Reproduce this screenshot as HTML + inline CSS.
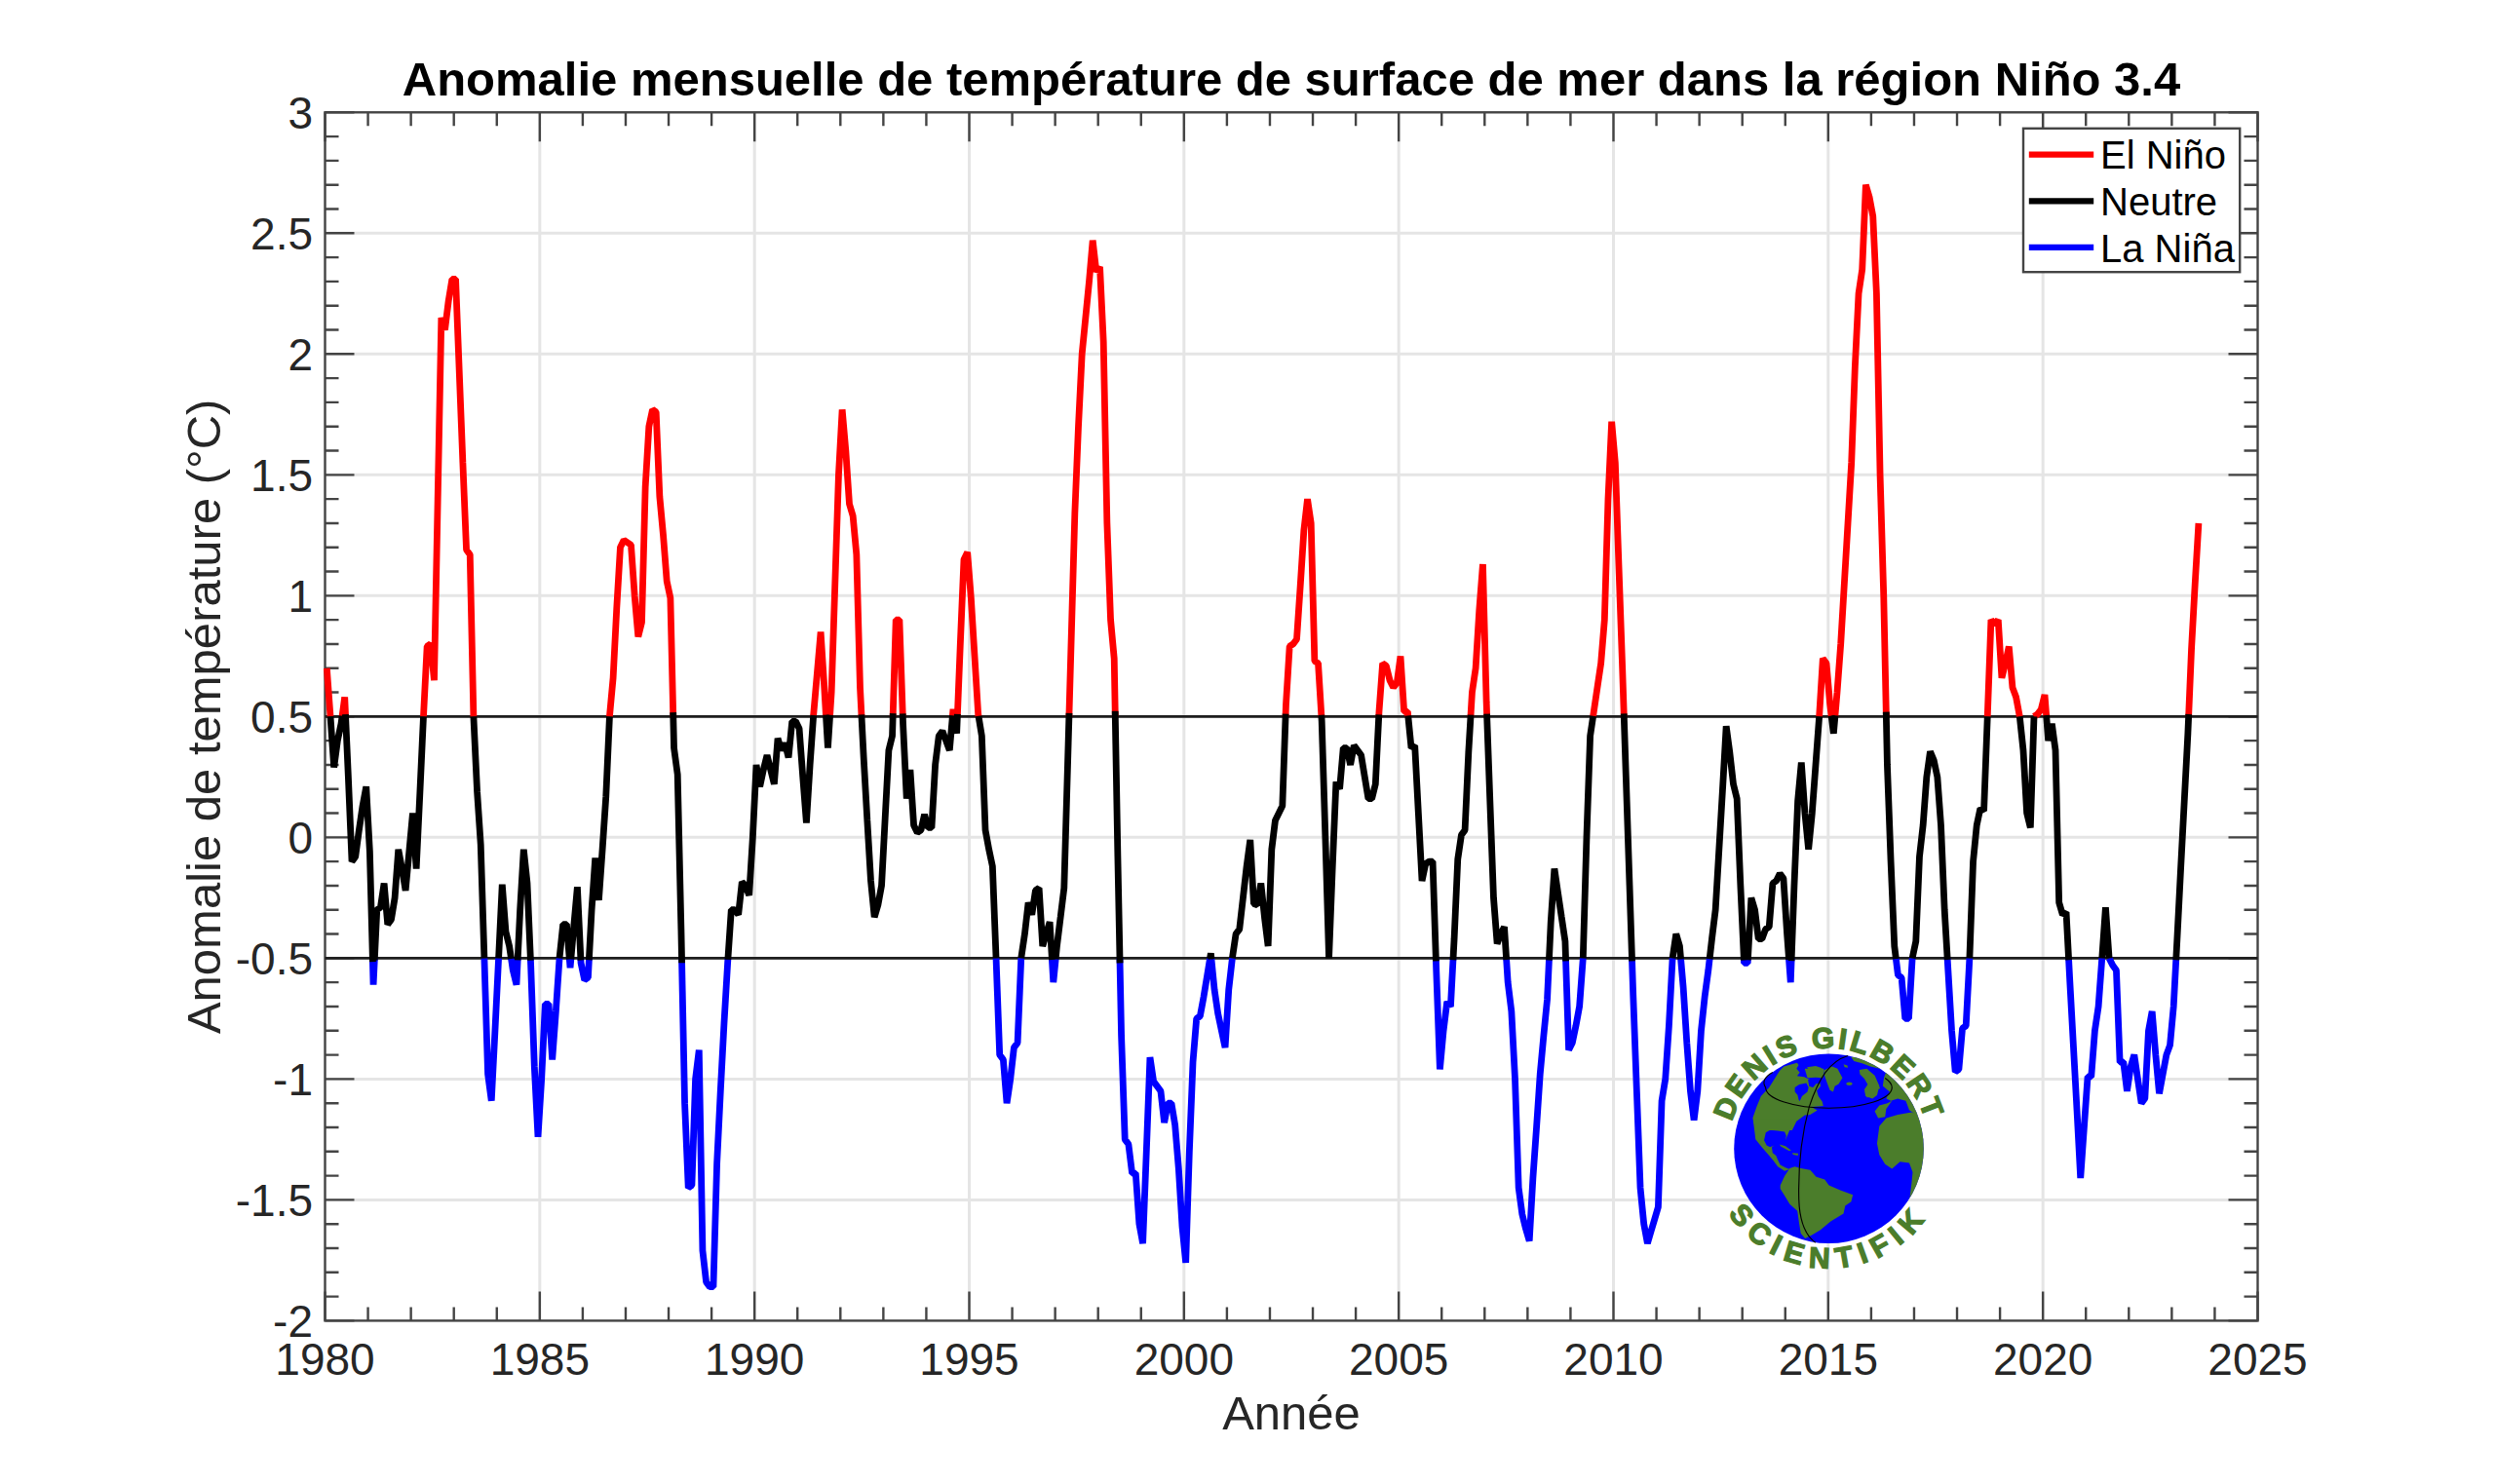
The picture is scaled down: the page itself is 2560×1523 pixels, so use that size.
<!DOCTYPE html>
<html><head><meta charset="utf-8"><style>html,body{margin:0;padding:0;background:#fff;overflow:hidden}svg{display:block}</style></head>
<body><svg width="2560" height="1523" viewBox="0 0 2560 1523">
<rect width="2560" height="1523" fill="#fff"/>
<path d="M553.83 115.30V1355.40M774.17 115.30V1355.40M994.50 115.30V1355.40M1214.83 115.30V1355.40M1435.17 115.30V1355.40M1655.50 115.30V1355.40M1875.83 115.30V1355.40M2096.17 115.30V1355.40M333.50 239.31H2316.50M333.50 363.32H2316.50M333.50 487.33H2316.50M333.50 611.34H2316.50M333.50 735.35H2316.50M333.50 859.36H2316.50M333.50 983.37H2316.50M333.50 1107.38H2316.50M333.50 1231.39H2316.50" stroke="#e5e5e5" stroke-width="3" fill="none"/>
<path d="M333.50 1355.40v-30M333.50 115.30v30M377.57 1355.40v-14M377.57 115.30v14M421.63 1355.40v-14M421.63 115.30v14M465.70 1355.40v-14M465.70 115.30v14M509.77 1355.40v-14M509.77 115.30v14M553.83 1355.40v-30M553.83 115.30v30M597.90 1355.40v-14M597.90 115.30v14M641.97 1355.40v-14M641.97 115.30v14M686.03 1355.40v-14M686.03 115.30v14M730.10 1355.40v-14M730.10 115.30v14M774.17 1355.40v-30M774.17 115.30v30M818.23 1355.40v-14M818.23 115.30v14M862.30 1355.40v-14M862.30 115.30v14M906.37 1355.40v-14M906.37 115.30v14M950.43 1355.40v-14M950.43 115.30v14M994.50 1355.40v-30M994.50 115.30v30M1038.57 1355.40v-14M1038.57 115.30v14M1082.63 1355.40v-14M1082.63 115.30v14M1126.70 1355.40v-14M1126.70 115.30v14M1170.77 1355.40v-14M1170.77 115.30v14M1214.83 1355.40v-30M1214.83 115.30v30M1258.90 1355.40v-14M1258.90 115.30v14M1302.97 1355.40v-14M1302.97 115.30v14M1347.03 1355.40v-14M1347.03 115.30v14M1391.10 1355.40v-14M1391.10 115.30v14M1435.17 1355.40v-30M1435.17 115.30v30M1479.23 1355.40v-14M1479.23 115.30v14M1523.30 1355.40v-14M1523.30 115.30v14M1567.37 1355.40v-14M1567.37 115.30v14M1611.43 1355.40v-14M1611.43 115.30v14M1655.50 1355.40v-30M1655.50 115.30v30M1699.57 1355.40v-14M1699.57 115.30v14M1743.63 1355.40v-14M1743.63 115.30v14M1787.70 1355.40v-14M1787.70 115.30v14M1831.77 1355.40v-14M1831.77 115.30v14M1875.83 1355.40v-30M1875.83 115.30v30M1919.90 1355.40v-14M1919.90 115.30v14M1963.97 1355.40v-14M1963.97 115.30v14M2008.03 1355.40v-14M2008.03 115.30v14M2052.10 1355.40v-14M2052.10 115.30v14M2096.17 1355.40v-30M2096.17 115.30v30M2140.23 1355.40v-14M2140.23 115.30v14M2184.30 1355.40v-14M2184.30 115.30v14M2228.37 1355.40v-14M2228.37 115.30v14M2272.43 1355.40v-14M2272.43 115.30v14M2316.50 1355.40v-30M2316.50 115.30v30M333.50 115.30h30M2316.50 115.30h-30M333.50 140.10h14M2316.50 140.10h-14M333.50 164.90h14M2316.50 164.90h-14M333.50 189.71h14M2316.50 189.71h-14M333.50 214.51h14M2316.50 214.51h-14M333.50 239.31h30M2316.50 239.31h-30M333.50 264.11h14M2316.50 264.11h-14M333.50 288.91h14M2316.50 288.91h-14M333.50 313.72h14M2316.50 313.72h-14M333.50 338.52h14M2316.50 338.52h-14M333.50 363.32h30M2316.50 363.32h-30M333.50 388.12h14M2316.50 388.12h-14M333.50 412.92h14M2316.50 412.92h-14M333.50 437.73h14M2316.50 437.73h-14M333.50 462.53h14M2316.50 462.53h-14M333.50 487.33h30M2316.50 487.33h-30M333.50 512.13h14M2316.50 512.13h-14M333.50 536.93h14M2316.50 536.93h-14M333.50 561.74h14M2316.50 561.74h-14M333.50 586.54h14M2316.50 586.54h-14M333.50 611.34h30M2316.50 611.34h-30M333.50 636.14h14M2316.50 636.14h-14M333.50 660.94h14M2316.50 660.94h-14M333.50 685.75h14M2316.50 685.75h-14M333.50 710.55h14M2316.50 710.55h-14M333.50 735.35h30M2316.50 735.35h-30M333.50 760.15h14M2316.50 760.15h-14M333.50 784.95h14M2316.50 784.95h-14M333.50 809.76h14M2316.50 809.76h-14M333.50 834.56h14M2316.50 834.56h-14M333.50 859.36h30M2316.50 859.36h-30M333.50 884.16h14M2316.50 884.16h-14M333.50 908.96h14M2316.50 908.96h-14M333.50 933.77h14M2316.50 933.77h-14M333.50 958.57h14M2316.50 958.57h-14M333.50 983.37h30M2316.50 983.37h-30M333.50 1008.17h14M2316.50 1008.17h-14M333.50 1032.97h14M2316.50 1032.97h-14M333.50 1057.78h14M2316.50 1057.78h-14M333.50 1082.58h14M2316.50 1082.58h-14M333.50 1107.38h30M2316.50 1107.38h-30M333.50 1132.18h14M2316.50 1132.18h-14M333.50 1156.98h14M2316.50 1156.98h-14M333.50 1181.79h14M2316.50 1181.79h-14M333.50 1206.59h14M2316.50 1206.59h-14M333.50 1231.39h30M2316.50 1231.39h-30M333.50 1256.19h14M2316.50 1256.19h-14M333.50 1280.99h14M2316.50 1280.99h-14M333.50 1305.80h14M2316.50 1305.80h-14M333.50 1330.60h14M2316.50 1330.60h-14M333.50 1355.40h30M2316.50 1355.40h-30" stroke="#444444" stroke-width="2.4" fill="none"/>
<rect x="333.5" y="115.3" width="1983.0" height="1240.1000000000001" stroke="#444444" stroke-width="2.4" fill="none"/>
<path d="M333.50 735.35H2316.50M333.50 983.37H2316.50" stroke="#1e1e1e" stroke-width="2.6" fill="none"/>
<path d="M335.34 685.75L339.01 735.35M351.03 735.35L353.70 715.51L354.59 735.35M434.49 735.35L438.16 663.42L441.83 660.94L445.50 698.15L449.18 512.13L452.85 326.12L456.52 338.52L460.19 308.76L463.86 286.43L467.54 286.43L471.21 380.68L474.88 474.93L478.55 564.22L482.23 569.18L485.90 735.35M625.44 735.35L629.11 695.67L632.79 623.74L636.46 561.74L640.13 554.30L643.80 556.78L647.48 559.26L651.15 611.34L654.82 653.50L658.49 638.62L662.16 499.73L665.84 437.73L669.51 420.36L673.18 422.84L676.85 509.65L680.53 549.34L684.20 596.46L687.87 613.82L690.77 735.35M834.58 735.35L834.76 732.87L838.43 690.71L842.10 648.54L845.78 705.59L847.54 735.35M851.52 735.35L853.12 710.55L856.79 598.94L860.46 487.33L864.14 420.36L867.81 462.53L871.48 517.09L875.15 529.49L878.83 569.18L882.50 705.59L884.02 735.35M916.16 735.35L919.22 636.14L922.89 636.14L926.31 735.35M977.33 735.35L977.98 727.91L979.08 735.35M982.34 735.35L985.32 660.94L988.99 574.14L992.66 566.70L996.34 613.82L1000.01 673.35L1003.68 732.87L1004.09 735.35M1096.90 735.35L1099.16 655.98L1102.83 527.01L1106.50 437.73L1110.18 363.32L1113.85 326.12L1117.52 288.91L1121.19 246.75L1124.86 278.99L1128.54 274.03L1132.21 350.92L1135.88 536.93L1139.55 636.14L1143.22 675.83L1144.30 735.35M1319.05 735.35L1319.49 722.95L1323.16 663.42L1326.84 660.94L1330.51 655.98L1334.18 601.42L1337.85 544.37L1341.53 512.13L1345.20 536.93L1348.87 678.31L1352.54 680.79L1355.91 735.35M1414.72 735.35L1414.97 730.39L1418.64 680.79L1422.31 683.27L1425.99 698.15L1429.66 705.59L1433.33 700.63L1437.00 673.35L1440.68 730.39L1444.35 730.39L1444.84 735.35M1508.98 735.35L1510.45 710.55L1514.12 685.75L1517.79 626.22L1521.46 579.10L1525.14 720.47L1525.67 735.35M1634.57 735.35L1635.30 730.39L1638.98 705.59L1642.65 680.79L1646.32 636.14L1649.99 512.13L1653.66 432.77L1657.34 474.93L1661.01 581.58L1664.68 685.75L1666.31 735.35M1866.65 735.35L1870.33 675.83L1874.00 680.79L1877.67 722.95L1879.20 735.35M1882.85 735.35L1885.01 710.55L1888.69 660.94L1892.36 598.94L1896.03 536.93L1899.70 474.93L1903.38 375.72L1907.05 301.31L1910.72 276.51L1914.39 189.71L1918.06 202.11L1921.74 221.95L1925.41 301.31L1929.08 487.33L1932.75 611.34L1935.38 735.35M2039.25 735.35L2042.92 636.14L2046.59 641.10L2050.26 636.14L2053.94 695.67L2057.61 680.79L2061.28 663.42L2064.95 705.59L2068.62 715.51L2072.30 735.35M2086.99 735.35L2090.66 732.87L2094.33 727.91L2098.00 713.03L2099.74 735.35M2245.63 735.35L2248.56 665.90L2252.24 598.94L2255.91 536.93" stroke="#ff0000" stroke-width="6.8" fill="none" stroke-linejoin="bevel" stroke-linecap="butt"/>
<path d="M382.34 983.37L383.07 1010.65L384.38 983.37M496.91 983.37L500.59 1102.42L504.26 1129.70L507.93 1057.78L511.60 983.37M524.46 983.37L526.29 995.77L529.96 1010.65L531.27 983.37M544.33 983.37L544.65 990.81L548.33 1094.98L552.00 1166.90L555.67 1107.38L559.34 1030.49L563.01 1030.49L566.69 1087.54L570.36 1037.93L574.03 983.37M584.23 983.37L585.05 993.29L585.91 983.37M595.83 983.37L596.06 988.33L599.74 1005.69L603.41 1003.21L604.46 983.37M699.50 983.37L702.56 1132.18L706.23 1218.99L709.90 1216.51L713.58 1107.38L717.25 1077.62L720.92 1283.47L724.59 1315.72L728.26 1320.68L731.94 1320.68L735.61 1194.19L739.28 1119.78L742.95 1050.34L746.62 988.33L746.96 983.37M1022.04 983.37L1025.71 1082.58L1029.39 1087.54L1033.06 1132.18L1036.73 1107.38L1040.40 1075.14L1044.08 1070.18L1047.75 983.37M1079.33 983.37L1080.80 1008.17L1083.25 983.37M1148.98 983.37L1150.57 1062.74L1154.24 1169.38L1157.91 1174.35L1161.59 1204.11L1165.26 1204.11L1168.93 1256.19L1172.60 1276.03L1176.28 1181.79L1179.95 1085.06L1183.62 1109.86L1187.29 1114.82L1190.96 1119.78L1194.64 1152.02L1198.31 1132.18L1201.98 1132.18L1205.65 1154.50L1209.33 1199.15L1213.00 1258.67L1216.67 1295.88L1220.34 1181.79L1224.01 1090.02L1227.69 1045.38L1231.36 1042.89L1235.03 1023.05L1238.70 1000.73L1241.56 983.37M1242.86 983.37L1246.05 1015.61L1249.72 1040.41L1253.39 1057.78L1257.06 1075.14L1260.74 1015.61L1264.41 983.37M1473.32 983.37L1473.73 995.77L1477.40 1097.46L1481.07 1057.78L1484.74 1028.01L1488.41 1032.97L1491.04 983.37M1545.57 983.37L1547.17 1008.17L1550.84 1037.93L1554.51 1107.38L1558.19 1218.99L1561.86 1246.27L1565.53 1261.15L1569.20 1273.55L1572.88 1209.07L1576.55 1156.98L1580.22 1102.42L1583.89 1062.74L1587.56 1025.53L1589.51 983.37M1606.50 983.37L1609.60 1077.62L1613.27 1070.18L1616.94 1052.82L1620.61 1032.97L1624.29 983.37M1674.47 983.37L1675.70 1020.57L1679.37 1119.78L1683.04 1218.99L1686.71 1256.19L1690.39 1276.03L1694.06 1263.63L1697.73 1251.23L1701.40 1238.83L1705.08 1129.70L1708.75 1107.38L1712.42 1052.82L1716.09 983.37M1724.52 983.37L1727.11 1013.13L1730.78 1070.18L1734.45 1119.78L1738.12 1149.54L1741.80 1119.78L1745.47 1057.78L1749.14 1023.05L1752.81 995.77L1754.23 983.37M1789.31 983.37L1789.54 988.33L1793.21 988.33L1793.48 983.37M1835.44 983.37L1837.28 1008.17L1838.19 983.37M1945.30 983.37L1947.44 1000.73L1951.11 1003.21L1954.79 1045.38L1958.46 1045.38L1962.13 983.37M1998.12 983.37L1998.85 995.77L2002.53 1057.78L2006.20 1099.94L2009.87 1097.46L2013.54 1055.30L2017.21 1052.82L2020.89 983.37M2122.53 983.37L2123.71 1005.69L2127.38 1072.66L2131.05 1139.62L2134.73 1209.07L2138.40 1156.98L2142.07 1104.90L2145.74 1104.90L2149.41 1057.78L2153.09 1032.97L2156.76 983.37M2164.10 983.37L2167.78 990.81L2171.45 995.77L2175.12 1090.02L2178.79 1090.02L2182.46 1119.78L2186.14 1094.98L2189.81 1082.58L2193.48 1107.38L2197.15 1132.18L2200.82 1127.22L2204.50 1057.78L2208.17 1037.93L2211.84 1082.58L2215.51 1122.26L2219.19 1102.42L2222.86 1082.58L2226.53 1072.66L2230.20 1032.97L2232.83 983.37" stroke="#0000ff" stroke-width="6.8" fill="none" stroke-linejoin="bevel" stroke-linecap="butt"/>
<path d="M339.01 735.35L342.68 787.43L346.35 760.15L350.02 742.79L351.13 734.61M354.49 733.12L357.37 797.36L361.04 884.16L364.71 879.20L368.39 851.92L372.06 827.12L375.73 807.28L379.40 874.24L382.44 987.08M384.28 985.46L386.75 933.77L390.42 931.29L394.09 906.48L397.76 948.65L401.44 943.69L405.11 921.37L408.78 871.76L412.45 891.60L416.12 913.92L419.80 874.24L423.47 834.56L427.14 891.60L430.81 814.72L434.49 735.35M485.90 735.35L489.57 812.24L493.24 866.80L496.91 983.37M511.60 983.37L515.27 907.72L518.95 956.09L522.62 970.97L524.56 984.05M531.17 985.46L533.64 933.77L537.31 871.76L540.98 906.48L544.43 985.67M574.03 983.37L577.70 948.65L581.38 948.65L584.33 984.59M585.81 984.52L588.72 951.13L592.39 910.20L595.93 985.50M604.36 985.26L607.08 933.77L610.75 880.44L614.42 923.85L618.10 871.76L621.77 817.20L625.44 735.35M690.67 731.16L691.54 767.59L695.21 794.87L698.89 953.61L699.60 988.23M746.86 984.86L750.30 933.77L753.97 933.77L757.64 938.73L761.31 905.24L764.99 908.96L768.66 918.88L772.33 859.36L776.00 784.95L779.67 807.28L783.35 789.91L787.02 775.03L790.69 789.91L794.36 804.80L798.04 757.67L801.71 770.07L805.38 762.63L809.05 777.51L812.73 740.31L816.40 740.31L820.07 747.75L823.74 797.36L827.41 844.48L831.09 784.95L834.68 733.93M847.44 733.66L849.45 767.59L851.62 733.80M883.92 733.39L886.17 777.51L889.84 842.00L893.51 904.00L897.19 941.21L900.86 928.81L904.53 908.96L908.20 839.52L911.88 770.07L915.55 755.19L916.26 732.11M926.21 732.45L926.56 742.79L930.24 819.68L933.91 789.91L937.58 846.96L941.25 854.40L944.93 851.92L948.60 835.80L952.27 849.44L955.94 849.44L959.61 784.95L963.29 755.19L966.96 750.23L970.63 760.15L974.30 770.07L977.43 734.20M978.98 734.67L981.65 752.71L982.44 732.85M1003.99 734.74L1007.35 755.19L1011.03 851.92L1014.70 871.76L1018.37 889.12L1022.04 983.37M1047.75 983.37L1051.42 958.57L1055.09 926.33L1058.76 938.73L1062.44 913.92L1066.11 911.44L1069.78 970.97L1073.45 958.57L1077.12 946.17L1079.43 985.06M1083.15 984.38L1084.47 970.97L1088.14 941.21L1091.81 911.44L1095.49 784.95L1097.00 731.84M1144.20 729.81L1146.90 879.20L1149.08 988.37M1241.46 983.98L1242.38 978.41L1242.96 984.38M1264.41 983.37L1268.08 958.57L1271.75 953.61L1275.43 921.37L1279.10 889.12L1282.77 861.84L1286.44 927.57L1290.11 928.81L1293.79 906.48L1297.46 941.21L1301.13 970.97L1304.80 871.76L1308.47 842.00L1312.15 834.56L1315.82 827.12L1319.15 732.51M1355.81 733.73L1356.21 740.31L1359.89 859.36L1363.56 983.37L1367.23 889.12L1370.90 802.32L1374.58 809.76L1378.25 767.59L1381.92 767.59L1385.59 784.95L1389.26 765.11L1392.94 770.07L1396.61 775.03L1400.28 797.36L1403.95 819.68L1407.62 819.68L1411.30 804.80L1414.82 733.32M1444.74 734.34L1448.02 767.59L1451.69 765.11L1455.36 834.56L1459.04 904.00L1462.71 886.64L1466.38 884.16L1470.05 884.16L1473.42 986.41M1490.94 985.26L1492.09 963.53L1495.76 881.68L1499.43 856.88L1503.10 851.92L1506.78 772.55L1509.08 733.66M1525.57 732.58L1528.81 822.16L1532.48 921.37L1536.15 968.49L1539.83 958.57L1543.50 951.13L1545.67 984.92M1589.41 985.53L1591.24 946.17L1594.91 891.60L1598.58 916.40L1602.25 941.21L1605.93 966.01L1606.60 986.41M1624.29 983.37L1627.96 859.36L1631.63 755.19L1634.67 734.67M1666.21 732.31L1668.35 797.36L1672.03 908.96L1674.57 986.41M1716.09 983.37L1719.76 958.57L1723.44 970.97L1724.62 984.52M1754.13 984.25L1756.49 963.53L1760.16 933.77L1763.83 871.76L1767.50 809.76L1771.18 745.27L1774.85 772.55L1778.52 804.80L1782.19 819.68L1785.86 908.96L1789.41 985.53M1793.38 985.19L1796.88 921.37L1800.55 933.77L1804.23 963.53L1807.90 963.53L1811.57 953.61L1815.24 951.13L1818.91 906.48L1822.59 904.00L1826.26 896.56L1829.93 901.52L1833.60 958.57L1835.54 984.72M1838.09 986.07L1840.95 908.96L1844.62 822.16L1848.29 782.47L1851.96 834.56L1855.64 871.76L1859.31 834.56L1862.98 784.95L1866.65 735.35M1879.10 734.54L1881.34 752.71L1882.95 734.20M1935.28 730.62L1936.43 784.95L1940.10 884.16L1943.77 970.97L1945.40 984.18M1962.13 983.37L1965.80 966.01L1969.48 879.20L1973.15 846.96L1976.82 797.36L1980.49 771.31L1984.16 779.99L1987.84 797.36L1991.51 846.96L1995.18 933.77L1998.22 985.06M2020.89 983.37L2024.56 884.16L2028.23 846.96L2031.90 829.60L2035.58 832.08L2039.25 735.35M2072.30 735.35L2075.97 770.07L2079.64 834.56L2083.31 849.44L2086.99 735.35M2099.64 734.07L2101.68 760.15L2105.35 742.79L2109.02 770.07L2112.69 926.33L2116.36 938.73L2120.04 936.25L2122.63 985.26M2156.76 983.37L2160.43 931.29L2164.10 983.37M2232.73 985.26L2233.88 963.53L2237.55 891.60L2241.22 822.16L2244.89 752.71L2245.73 732.99" stroke="#000000" stroke-width="6.8" fill="none" stroke-linejoin="bevel" stroke-linecap="butt"/>
<g font-family="Liberation Sans" font-size="46" fill="#262626"><text x="333.50" y="1410.5" text-anchor="middle">1980</text><text x="553.83" y="1410.5" text-anchor="middle">1985</text><text x="774.17" y="1410.5" text-anchor="middle">1990</text><text x="994.50" y="1410.5" text-anchor="middle">1995</text><text x="1214.83" y="1410.5" text-anchor="middle">2000</text><text x="1435.17" y="1410.5" text-anchor="middle">2005</text><text x="1655.50" y="1410.5" text-anchor="middle">2010</text><text x="1875.83" y="1410.5" text-anchor="middle">2015</text><text x="2096.17" y="1410.5" text-anchor="middle">2020</text><text x="2316.50" y="1410.5" text-anchor="middle">2025</text><text x="321" y="131.70" text-anchor="end">3</text><text x="321" y="255.71" text-anchor="end">2.5</text><text x="321" y="379.72" text-anchor="end">2</text><text x="321" y="503.73" text-anchor="end">1.5</text><text x="321" y="627.74" text-anchor="end">1</text><text x="321" y="751.75" text-anchor="end">0.5</text><text x="321" y="875.76" text-anchor="end">0</text><text x="321" y="999.77" text-anchor="end">-0.5</text><text x="321" y="1123.78" text-anchor="end">-1</text><text x="321" y="1247.79" text-anchor="end">-1.5</text><text x="321" y="1371.80" text-anchor="end">-2</text></g>
<text x="1325.00" y="1467" text-anchor="middle" font-family="Liberation Sans" font-size="49" fill="#262626">Année</text>
<text transform="translate(225.7 735.35) rotate(-90)" text-anchor="middle" font-family="Liberation Sans" font-size="49" fill="#262626">Anomalie de température (°C)</text>
<text x="1325.00" y="98" text-anchor="middle" font-family="Liberation Sans" font-weight="bold" font-size="49" fill="#000">Anomalie mensuelle de température de surface de mer dans la région Niño 3.4</text>
<rect x="2076" y="131.8" width="222.2" height="147.4" fill="#fff" stroke="#444444" stroke-width="2.4"/><path d="M2081.8 158.70H2148.2" stroke="#ff0000" stroke-width="6.3"/><text x="2155" y="173.30" font-family="Liberation Sans" font-size="40" fill="#000">El Niño</text><path d="M2081.8 206.30H2148.2" stroke="#000000" stroke-width="6.3"/><text x="2155" y="220.90" font-family="Liberation Sans" font-size="40" fill="#000">Neutre</text><path d="M2081.8 253.90H2148.2" stroke="#0000ff" stroke-width="6.3"/><text x="2155" y="268.50" font-family="Liberation Sans" font-size="40" fill="#000">La Niña</text>
<g><path id="arcTop" d="M1775.06 1196.59A103.0 103.0 0 1 1 1977.94 1196.59" fill="none"/><path id="arcBot" d="M1753.97 1189.42A123.0 123.0 0 0 0 1999.03 1189.42" fill="none"/><clipPath id="gclipS"><circle cx="1876.5" cy="1178.7" r="97.3"/></clipPath><circle cx="1876.5" cy="1178.7" r="97.3" fill="#0000ff"/><g clip-path="url(#gclipS)"><g transform="translate(1790 1080) scale(0.056117)"><path d="M200 1426L150 1200L220 1000L300 800L450 640L640 340L720 260L960 190L990 230L950 300L1010 370L960 430L1090 450L1240 520L1300 580L1380 560L1390 620L1320 700L1350 800L1420 900L1440 980L1350 990L1220 1000L1330 1060L1200 1140L1100 1150L950 1260L870 1426ZM1450 330L1600 260L1700 300L1790 470L1720 580L1650 620L1620 720L1560 690L1510 560L1460 420ZM1810 220L1880 240L1890 280L1830 270ZM1950 90L2600 90L2600 330L2300 260L2150 200L2000 160ZM2100 320L2250 310L2330 430L2430 560L2480 660L2380 700L2330 790L2240 830L2200 720L2270 620L2190 480L2110 400ZM1140 270L1300 250L1420 290L1330 330L1200 340ZM1100 300L1450 300L1440 470L1300 460L1150 470Z" fill="#4b7d2b"/><path d="M920 640L1000 590L1130 560L1170 640L1150 720L1050 800L1010 890L990 870L970 780L920 720ZM1160 500L1280 490L1300 590L1250 640L1180 620ZM1000 300L1080 310L1100 350L1040 380Z" fill="#0000ff"/><ellipse cx="1915" cy="575" rx="55" ry="30" fill="#4b7d2b"/></g><g transform="translate(1775 1150) scale(0.087612)"><path d="M590 760L640 650L700 560L760 540L830 560L940 580L1010 660L1110 690L1160 760L1300 820L1440 870L1420 950L1350 1000L1330 1090L1180 1180L1060 1280L960 1340L880 1380L830 1320L810 1200L790 1060L700 980L640 880L590 800ZM270 -20L300 220L380 320L450 400L510 470L560 540L640 590L700 570L650 550L590 520L560 460L540 410L500 380L490 310L520 290L470 310L430 290L400 230L420 140L470 110L560 120L640 130L660 180L650 230L700 110L790 -20ZM580 280L650 300L720 350L690 355L600 305ZM730 380L800 385L795 410L740 400Z" fill="#4b7d2b"/></g><g transform="translate(1900 1085) scale(0.117925)"><path d="M300 120L720 -20L720 560L560 500L500 460L470 380L400 360L340 380L300 360L330 300L270 250L280 180ZM200 470L240 420L310 400L350 380L300 450L290 520L230 530ZM240 600L300 530L400 500L520 480L720 560L720 1100L500 1260L520 1100L530 1000L500 920L420 910L350 970L290 930L240 850L220 750ZM70 110L130 100L200 160L240 250L220 330L180 360L120 340L110 280L150 220L90 160Z" fill="#4b7d2b"/><path d="M420 400L480 410L470 460L420 450Z" fill="#0000ff"/></g></g><g transform="translate(1770 1075) scale(0.141543)"><path d="M345 180 A458 150 0 0 0 294 290 A458 150 0 0 0 752 440 A458 150 0 0 0 1210 290 A458 150 0 0 0 1160 222" fill="none" stroke="#000" stroke-width="8"/><path d="M890 60 C760 100 680 220 610 430 C550 650 530 900 535 1100 C540 1260 580 1360 655 1415" fill="none" stroke="#000" stroke-width="8"/></g><text font-family="Liberation Sans" font-weight="bold" font-size="30" fill="#4b7d2b"><textPath href="#arcTop" startOffset="50%" text-anchor="middle" letter-spacing="2.8" stroke="#4b7d2b" stroke-width="1.3">DENIS GILBERT</textPath></text><text font-family="Liberation Sans" font-weight="bold" font-size="30" fill="#4b7d2b"><textPath href="#arcBot" startOffset="50%" text-anchor="middle" letter-spacing="7.8" stroke="#4b7d2b" stroke-width="1.3">SCIENTIFIK</textPath></text></g>
</svg></body></html>
